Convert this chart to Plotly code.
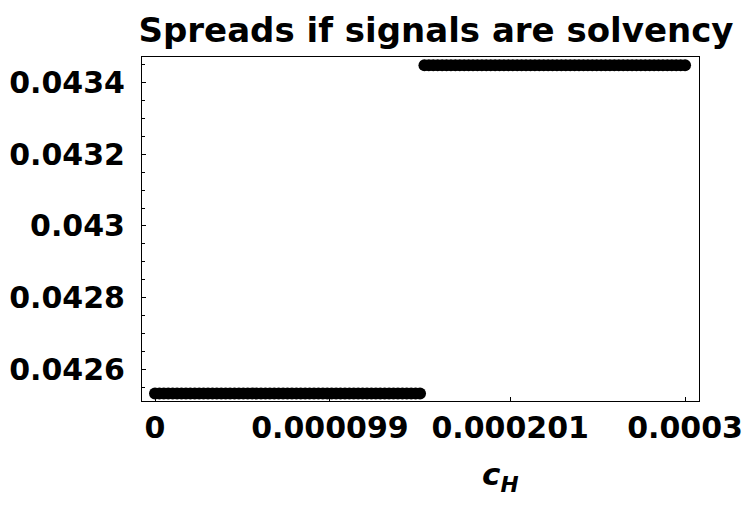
import numpy as np
import plotly.graph_objects as go

c_H_start = 0.0
c_H_end = 0.0003
c_H_step = 0.0000025
last_low_c = 0.00015
spread_low = 0.042532
spread_high = 0.043449

c_H = np.round(np.arange(c_H_start, c_H_end + 1e-12, c_H_step), 8)
spread = [spread_low if c <= last_low_c + 1e-12 else spread_high for c in c_H]

x_tickvals = [0, 0.000099, 0.000201, 0.0003]
x_ticktext = ["0", "0.000099", "0.000201", "0.0003"]
y_tickvals = [0.0426, 0.0428, 0.043, 0.0432, 0.0434]
y_ticktext = ["0.0426", "0.0428", "0.043", "0.0432", "0.0434"]

FONT = "DejaVu Sans"

fig = go.Figure()
fig.add_trace(go.Scatter(
    x=c_H, y=spread, mode="markers",
    marker=dict(color="black", size=12, line=dict(width=0)),
    showlegend=False, hoverinfo="skip",
))

fig.update_layout(
    width=746, height=506,
    margin=dict(l=142, r=47, t=57, b=105, autoexpand=False),
    paper_bgcolor="white", plot_bgcolor="white",
    font=dict(family=FONT, color="black", size=30, weight="bold"),
    title=dict(text="Spreads if signals are solvency", xref="container", yref="container",
               x=436/746, y=1 - 30/506, xanchor="center", yanchor="middle",
               font=dict(family=FONT, size=34, color="black", weight="bold")),
)

fig.update_xaxes(
    range=[-7.36e-6, 0.0003079], showgrid=False, zeroline=False, automargin=False,
    tickmode="array", tickvals=x_tickvals, ticktext=x_ticktext,
    ticks="inside", ticklen=4, tickcolor="black", tickwidth=1,
    showline=True, linecolor="black", linewidth=1, mirror=True,
    ticklabelstandoff=0,
    tickfont=dict(family=FONT, size=30, color="black", weight="bold"),
)
fig.update_yaxes(
    range=[0.042511, 0.043472], showgrid=False, zeroline=False, automargin=False,
    tickmode="array", tickvals=y_tickvals, ticktext=y_ticktext,
    ticks="inside", ticklen=4, tickcolor="black", tickwidth=1,
    showline=True, linecolor="black", linewidth=1, mirror=True,
    ticklabelstandoff=10,
    minor=dict(ticks="inside", ticklen=3, tickcolor="black", dtick=0.00005, tick0=0.0426, showgrid=False),
    tickfont=dict(family=FONT, size=30, color="black", weight="bold"),
)

fig.add_annotation(
    text="<i>c</i><sub><i>H</i></sub>", xref="paper", yref="paper",
    x=(500 - 142) / 557, y=-(476 - 401) / 344, xanchor="center", yanchor="middle",
    showarrow=False, font=dict(family=FONT, size=31, color="black", weight="bold"),
)

fig.write_html("out.html")
